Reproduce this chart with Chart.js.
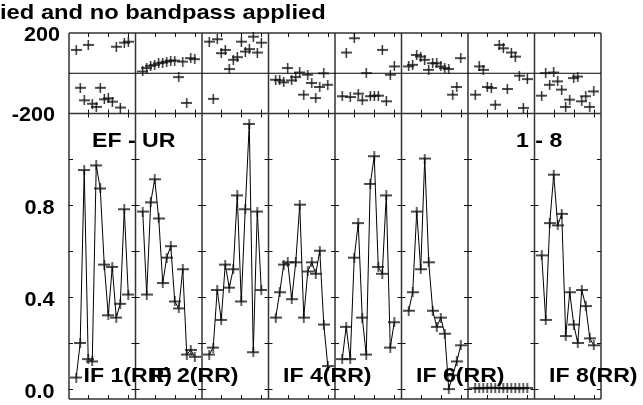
<!DOCTYPE html>
<html>
<head>
<meta charset="utf-8">
<script src="https://cdn.jsdelivr.net/npm/chart.js@4"></script>
<style>
  html, body { margin: 0; padding: 0; background: #fff; }
  #possm { display: block; }
</style>
</head>
<body>
<canvas id="possm" width="643" height="405"></canvas>
<script>
/* ============================================================
   POSSM — amplitud y fase por canal, 8 IFs, baseline EF - UR
   ============================================================ */

// canales graficados en cada IF (1 y 16 marcados)
var canales = [2, 3, 4, 5, 6, 7, 8, 9, 10, 11, 12, 13, 14, 15];
var etiquetasIF = ['IF 1(RR)', 'IF 2(RR)', '', 'IF 4(RR)', '', 'IF 6(RR)', '', 'IF 8(RR)'];
var titulo = 'ied and no bandpass applied';
var baseline = 'EF - UR';
var rangoIF = '1 - 8';

var ticksCanal = [5, 10, 15];
var ticksAmp = [0, 0.2, 0.4, 0.6, 0.8, 1.0];
var etiquetasAmp = [0, 0.4, 0.8];
var etiquetasFase = [-200, 200];

// amplitud (Jy)
var ampIF1 = [0.05, 0.20, 0.95, 0.13, 0.12, 0.97, 0.87, 0.54, 0.32, 0.53, 0.31, 0.37, 0.78, 0.41];
var ampIF2 = [0.77, 0.41, 0.81, 0.91, 0.74, 0.46, 0.57, 0.62, 0.38, 0.35, 0.52, 0.15, 0.17, 0.14];
var ampIF3 = [0.15, 0.18, 0.43, 0.30, 0.54, 0.44, 0.52, 0.84, 0.38, 0.78, 1.15, 0.16, 0.77, 0.43];
var ampIF4 = [0.31, 0.42, 0.54, 0.55, 0.39, 0.55, 0.80, 0.31, 0.51, 0.55, 0.50, 0.60, 0.28, 0.10];
var ampIF5 = [0.13, 0.27, 0.13, 0.57, 0.72, 0.31, 0.15, 0.89, 1.01, 0.53, 0.50, 0.84, 0.18, 0.29];
var ampIF6 = [0.34, 0.42, 0.77, 0.52, 1.00, 0.55, 0.34, 0.27, 0.31, 0.24, 0.00, 0.06, 0.12, 0.19];
var ampIF7 = [0.004, 0.003, 0.005, 0.004, 0.006, 0.005, 0.004, 0.005, 0.003, 0.005, 0.004, 0.003, 0.004, 0.005];
var ampIF8 = [0.58, 0.30, 0.72, 0.93, 0.71, 0.76, 0.23, 0.42, 0.28, 0.20, 0.43, 0.36, 0.22, 0.19];

// fase (grados)
var faseIF1 = [116, -72, -134, 141, -151, -167, -72, -129, -124, -141, 132, -170, 152, 157];
var faseIF2 = [9, 26, 37, 42, 50, 53, 58, 63, 63, -19, 58, -147, 75, 70];
var faseIF3 = [157, -127, 169, 100, 116, 21, 67, 80, 157, 108, 120, 182, 103, 152];
var faseIF4 = [-32, -35, -45, 26, -35, -19, 4, -106, -7, -48, -123, -68, 0, -57];
var faseIF5 = [-114, 103, -118, 174, -101, -134, 1, -114, -111, -111, 116, -139, -7, 34];
var faseIF6 = [34, 42, 91, 83, 67, 17, 50, 50, 34, 26, 21, -106, -68, 75];
var faseIF7 = [-106, 34, 17, -68, -73, -156, 141, 124, -78, 103, 83, -12, -172, -29];
var faseIF8 = [-111, 1, -57, 4, -40, -81, -167, -131, -24, -16, -139, -114, -167, -90];

var amps = [ampIF1, ampIF2, ampIF3, ampIF4, ampIF5, ampIF6, ampIF7, ampIF8];
var fases = [faseIF1, faseIF2, faseIF3, faseIF4, faseIF5, faseIF6, faseIF7, faseIF8];

var ANCHO_IF = 16.6;   // unidades de canal por panel
var X0 = 0.2;

function hacerCruz(w, h) {
  var c = document.createElement('canvas');
  c.width = w; c.height = h;
  var g = c.getContext('2d');
  g.strokeStyle = '#111';
  g.lineWidth = 1.3;
  g.beginPath();
  g.moveTo(0, h / 2); g.lineTo(w, h / 2);
  g.moveTo(w / 2, 0); g.lineTo(w / 2, h);
  g.stroke();
  return c;
}
var cruzAmp = hacerCruz(12, 10);
var cruzFase = hacerCruz(11, 10);

function texto(ctx, str, x, y, align, size, sx) {
  ctx.save();
  ctx.font = 'bold ' + size + 'px "Liberation Sans", Arial, sans-serif';
  ctx.fillStyle = '#000';
  ctx.textAlign = align;
  ctx.textBaseline = 'alphabetic';
  ctx.translate(x, y);
  ctx.scale(sx, 1);
  ctx.fillText(str, 0, 0);
  ctx.restore();
}

var marcoPlugin = {
  id: 'marco',
  beforeDatasetsDraw: function(chart) {
    var ctx = chart.ctx;
    var x = chart.scales.x, yA = chart.scales.yAmp, yP = chart.scales.yPh;
    var top = yP.top, mid = yP.bottom, bot = yA.bottom;
    var bordes = [];
    for (var b = 0; b <= amps.length; b++) bordes.push(x.getPixelForValue(b * ANCHO_IF + X0));

    ctx.save();
    ctx.strokeStyle = '#333';
    ctx.lineWidth = 1.5;
    ctx.beginPath();
    bordes.forEach(function(bx) { ctx.moveTo(bx, top); ctx.lineTo(bx, bot); });
    [top, mid, bot].forEach(function(yy) { ctx.moveTo(bordes[0], yy); ctx.lineTo(bordes[bordes.length - 1], yy); });
    ctx.stroke();

    // linea de fase cero
    ctx.strokeStyle = '#000';
    ctx.lineWidth = 1;
    var y0 = yP.getPixelForValue(0);
    ctx.beginPath();
    ctx.moveTo(bordes[0], y0); ctx.lineTo(bordes[bordes.length - 1], y0);
    ctx.stroke();

    // ticks de canal
    ctx.strokeStyle = '#111';
    ctx.beginPath();
    for (var p = 0; p < amps.length; p++) {
      ticksCanal.forEach(function(t) {
        var xp = Math.round(x.getPixelForValue(p * ANCHO_IF + t)) + 0.5;
        ctx.moveTo(xp, top); ctx.lineTo(xp, top + 4);
        ctx.moveTo(xp, mid - 4); ctx.lineTo(xp, mid + 4);
        ctx.moveTo(xp, bot - 4); ctx.lineTo(xp, bot);
      });
    }
    // ticks de amplitud en cada borde
    ticksAmp.forEach(function(v) {
      var yy = Math.round(yA.getPixelForValue(v)) + 0.5;
      bordes.forEach(function(bx, i) {
        ctx.moveTo(bx - (i > 0 ? 4 : 0), yy);
        ctx.lineTo(bx + (i < bordes.length - 1 ? 4 : 0), yy);
      });
    });
    ctx.stroke();
    ctx.restore();
  },
  afterDraw: function(chart) {
    var ctx = chart.ctx;
    var x = chart.scales.x, yA = chart.scales.yAmp, yP = chart.scales.yPh;

    texto(ctx, titulo, 0, 18.5, 'left', 21, 1.13);

    etiquetasFase.forEach(function(v) {
      var yy = yP.getPixelForValue(v);
      texto(ctx, String(v), v > 0 ? 60 : 55, yy + 7.5, 'right', 20, 1.08);
    });
    etiquetasAmp.forEach(function(v) {
      texto(ctx, v.toFixed(1), 54.5, yA.getPixelForValue(v) + 9.3, 'right', 20, 1.08);
    });

    texto(ctx, baseline, 92, 146.7, 'left', 21, 1.1);
    texto(ctx, rangoIF, 516, 146.7, 'left', 21, 1.1);

    etiquetasIF.forEach(function(lbl, p) {
      if (!lbl) return;
      var xl = x.getPixelForValue(p * ANCHO_IF + X0) + 14.5;
      texto(ctx, lbl, xl, 381.5, 'left', 21, 1.1);
    });
  }
};

function cargarPossm() {
  var datasets = [];
  amps.forEach(function(serie, p) {
    datasets.push({
      label: 'amp IF ' + (p + 1),
      data: canales.map(function(c, i) { return { x: p * ANCHO_IF + c, y: serie[i] }; }),
      yAxisID: 'yAmp',
      showLine: true,
      borderColor: '#000',
      borderWidth: 1,
      pointStyle: cruzAmp,
      pointRadius: 5,
      tension: 0,
      clip: false
    });
  });
  fases.forEach(function(serie, p) {
    datasets.push({
      label: 'fase IF ' + (p + 1),
      data: canales.map(function(c, i) { return { x: p * ANCHO_IF + c, y: serie[i] }; }),
      yAxisID: 'yPh',
      showLine: false,
      pointStyle: cruzFase,
      pointRadius: 5,
      clip: false
    });
  });

  var ctx = document.getElementById('possm').getContext('2d');
  new Chart(ctx, {
    type: 'line',
    data: { datasets: datasets },
    options: {
      responsive: false,
      animation: false,
      devicePixelRatio: 1,
      layout: { padding: { left: 69, right: 42, top: 33, bottom: 4 } },
      plugins: { legend: { display: false }, tooltip: { enabled: false } },
      scales: {
        x: { type: 'linear', min: X0, max: X0 + amps.length * ANCHO_IF, display: false },
        yPh: { type: 'linear', position: 'left', stack: 'v', stackWeight: 81, weight: 1,
               min: -200, max: 200, display: false },
        yAmp: { type: 'linear', position: 'left', stack: 'v', stackWeight: 287, weight: 0,
                min: -0.043, max: 1.195, display: false }
      }
    },
    plugins: [marcoPlugin]
  });
}

document.addEventListener('DOMContentLoaded', cargarPossm);
</script>
</body>
</html>
